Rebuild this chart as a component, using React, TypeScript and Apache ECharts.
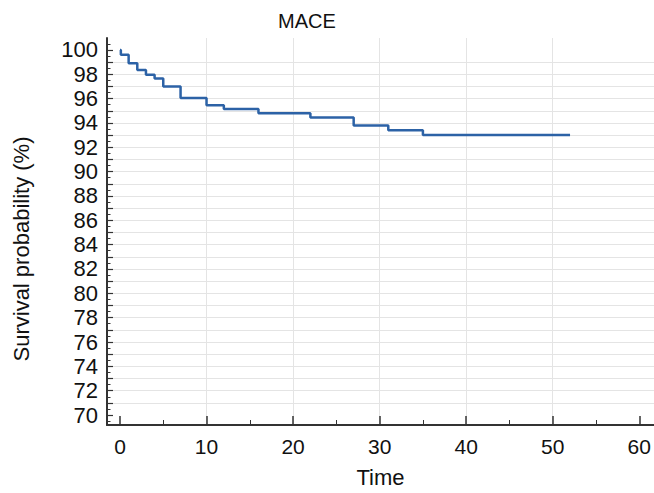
import React, { useEffect, useRef } from "react";
import * as echarts from "echarts";

// Kaplan–Meier step data (time, survival %)
const times = [0, 0.1, 1, 2, 3, 4, 5, 7, 10, 12, 16, 22, 27, 31, 35, 52];
const survival = [100, 99.6, 98.9, 98.35, 97.95, 97.65, 97.0, 96.05, 95.45, 95.15, 94.8, 94.45, 93.8, 93.4, 93.0, 93.0];

// Axis tick / label values
const xLabelValues = [0, 10, 20, 30, 40, 50, 60];
const xMinorTickValues = [5, 15, 25, 35, 45, 55];
const yLabelValues = [70, 72, 74, 76, 78, 80, 82, 84, 86, 88, 90, 92, 94, 96, 98, 100];
const yMajorTickValues = [70, 71, 72, 73, 74, 75, 76, 77, 78, 79, 80, 81, 82, 83, 84, 85, 86, 87, 88, 89, 90, 91, 92, 93, 94, 95, 96, 97, 98, 99, 100];
const yMinorTickValues = [69.5, 70.5, 71.5, 72.5, 73.5, 74.5, 75.5, 76.5, 77.5, 78.5, 79.5, 80.5, 81.5, 82.5, 83.5, 84.5, 85.5, 86.5, 87.5, 88.5, 89.5, 90.5, 91.5, 92.5, 93.5, 94.5, 95.5, 96.5, 97.5, 98.5, 99.5, 100.5];

const TITLE = "MACE";
const X_NAME = "Time";
const Y_NAME = "Survival probability (%)";

const X_MIN = -1.5;
const X_MAX = 61.7;
const Y_MIN = 69.18;
const Y_MAX = 100.98;

const FONT = "'Liberation Sans', Arial, sans-serif";
const AXIS_COLOR = "#333";
const GRID_COLOR = "#e4e4e4";

export default function App() {
  const ref = useRef<HTMLDivElement>(null);
  useEffect(() => {
    if (!ref.current) return;
    const chart = echarts.init(ref.current, null, { renderer: "svg" });
    const seriesData = times.map((t, i) => [t, survival[i]]);
    chart.setOption({
      animation: false,
      backgroundColor: "#ffffff",
      textStyle: { fontFamily: FONT },
      title: {
        text: TITLE,
        left: 273,
        top: 6,
        textStyle: { fontFamily: FONT, fontSize: 20, fontWeight: "normal", color: "#111" },
      },
      graphic: [
        {
          type: "text",
          x: 21,
          y: 249,
          rotation: Math.PI / 2,
          style: {
            text: Y_NAME,
            fontFamily: FONT,
            fontSize: 22,
            fill: "#111",
            textAlign: "center",
            textVerticalAlign: "middle",
          },
        },
      ],
      grid: { left: 107, right: 0, top: 38, bottom: 66, containLabel: false },
      xAxis: [
        {
          type: "value",
          min: X_MIN,
          max: X_MAX,
          splitNumber: 6,
          position: "bottom",
          name: X_NAME,
          nameLocation: "middle",
          nameGap: 41,
          nameTextStyle: { fontFamily: FONT, fontSize: 22, color: "#111" },
          axisLine: { show: true, onZero: false, lineStyle: { color: AXIS_COLOR, width: 2 } },
          axisTick: {
            show: true,
            inside: true,
            length: 9,
            customValues: xLabelValues,
            lineStyle: { color: AXIS_COLOR, width: 1.5 },
          },
          axisLabel: {
            show: true,
            customValues: xLabelValues,
            margin: 11,
            fontFamily: FONT,
            fontSize: 21,
            color: "#111",
          },
          splitLine: { show: true, showMinLine: false, showMaxLine: false, lineStyle: { color: GRID_COLOR, width: 1 } },
        },
        {
          type: "value",
          min: X_MIN,
          max: X_MAX,
          position: "bottom",
          axisLine: { show: false, onZero: false },
          axisTick: {
            show: true,
            inside: true,
            length: 5,
            customValues: xMinorTickValues,
            lineStyle: { color: AXIS_COLOR, width: 1 },
          },
          axisLabel: { show: false },
          splitLine: { show: false },
        },
      ],
      yAxis: [
        {
          type: "value",
          min: Y_MIN,
          max: Y_MAX,
          splitNumber: 32,
          position: "left",
          axisLine: { show: true, onZero: false, lineStyle: { color: AXIS_COLOR, width: 2 } },
          axisTick: {
            show: true,
            inside: true,
            length: 6,
            customValues: yMajorTickValues,
            lineStyle: { color: AXIS_COLOR, width: 1.2 },
          },
          axisLabel: {
            show: true,
            customValues: yLabelValues,
            margin: 9,
            fontFamily: FONT,
            fontSize: 22,
            color: "#111",
          },
          splitLine: { show: true, showMinLine: false, showMaxLine: false, lineStyle: { color: GRID_COLOR, width: 1 } },
        },
        {
          type: "value",
          min: Y_MIN,
          max: Y_MAX,
          position: "left",
          axisLine: { show: false, onZero: false },
          axisTick: {
            show: true,
            inside: true,
            length: 3.5,
            customValues: yMinorTickValues,
            lineStyle: { color: AXIS_COLOR, width: 1 },
          },
          axisLabel: { show: false },
          splitLine: { show: false },
        },
      ],
      series: [
        {
          type: "line",
          step: "end",
          xAxisIndex: 0,
          yAxisIndex: 0,
          data: seriesData,
          showSymbol: false,
          symbol: "none",
          lineStyle: { color: "#2c62a6", width: 2.5 },
          itemStyle: { color: "#2c62a6" },
        },
      ],
    });
    return () => chart.dispose();
  }, []);
  return (
    <div
      ref={ref}
      style={{ position: "fixed", left: 0, top: 0, width: 654, height: 493, background: "#fff" }}
    />
  );
}
